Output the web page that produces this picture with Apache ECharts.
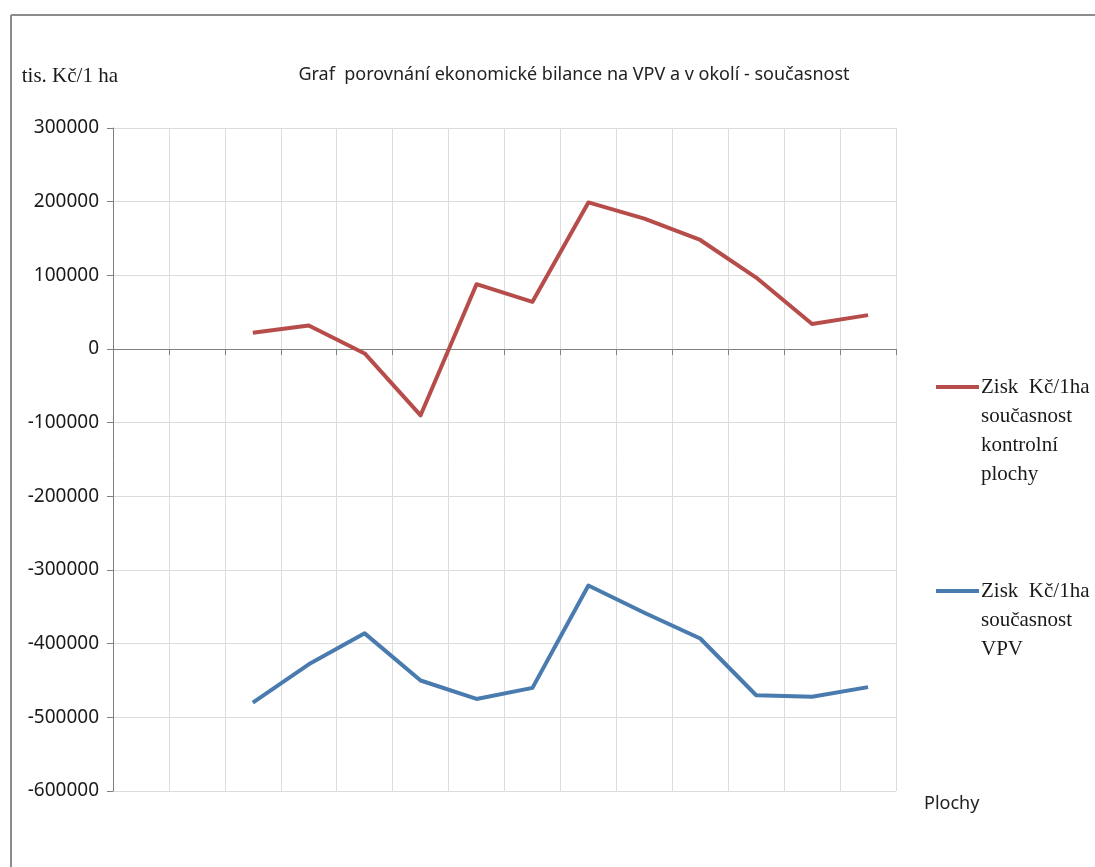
<!DOCTYPE html>
<html>
<head>
<meta charset="utf-8">
<title>Graf porovnání ekonomické bilance</title>
<script src="https://cdn.jsdelivr.net/npm/echarts@6/dist/echarts.min.js"></script>
<style>
  html, body { margin: 0; padding: 0; background: #ffffff; }
  #chart { width: 1095px; height: 867px; }
</style>
</head>
<body>
<div id="chart"></div>
<script>
// Plochy (areas) along the category axis
const plochy = ['1', '2', '3', '4', '5', '6', '7', '8', '9', '10', '11', '12', '13', '14'];

// Zisk Kč/1ha – současnost, kontrolní plochy
const ziskKontrolni = [null, null, 22000, 32000, -6000, -90000, 88000, 64000, 199000, 177000, 148000, 97000, 34000, 46000];

// Zisk Kč/1ha – současnost, VPV
const ziskVPV = [null, null, -480000, -428000, -386000, -450000, -475000, -460000, -321000, -358000, -393000, -470000, -472000, -459000];

// Value axis ticks
const yMin = -600000;
const yMax = 300000;
const yStep = 100000;

const seriesNames = [
  'Zisk  Kč/1ha\nsoučasnost\nkontrolní\nplochy',
  'Zisk  Kč/1ha\nsoučasnost\nVPV'
];
const colors = ['#B64D4B', '#4A7BAF'];

const sans = "'Noto Sans', 'Open Sans', sans-serif";
const serif = "'Liberation Serif', 'DejaVu Serif', serif";

const chart = echarts.init(document.getElementById('chart'), null, { renderer: 'canvas' });

// Legend entries: a short line in the series colour followed by its stacked caption
function legendEntry(i, lineY, textTop) {
  const lines = seriesNames[i].split('\n');
  const els = [{
    type: 'line',
    shape: { x1: 936, y1: lineY, x2: 979, y2: lineY },
    style: { stroke: colors[i], lineWidth: 4 }
  }];
  lines.forEach((t, k) => {
    els.push({
      type: 'text',
      x: 981,
      y: textTop + k * 29,
      style: {
        text: t,
        fill: '#1a1a1a',
        font: '21px ' + serif,
        textAlign: 'left',
        textVerticalAlign: 'middle'
      }
    });
  });
  return els;
}

const option = {
  animation: false,
  backgroundColor: '#ffffff',
  title: [
    {
      text: 'Graf  porovnání ekonomické bilance na VPV a v okolí - současnost',
      left: 569,
      top: 61,
      textAlign: 'center',
      textStyle: { fontFamily: sans, fontSize: 18, fontWeight: 'normal', color: '#222' }
    },
    {
      text: 'Plochy',
      left: 919,
      top: 790,
      textStyle: { fontFamily: sans, fontSize: 18, fontWeight: 'normal', color: '#222' }
    }
  ],
  grid: { left: 113, right: 199, top: 128, bottom: 76, containLabel: false },
  xAxis: {
    type: 'category',
    data: plochy,
    boundaryGap: true,
    axisLine: { onZero: true, lineStyle: { color: '#7f7f7f', width: 1 } },
    axisTick: { show: true, length: 6, lineStyle: { color: '#7f7f7f' } },
    axisLabel: { show: false },
    splitLine: { show: true, lineStyle: { color: '#dcdcdc', width: 1 } }
  },
  yAxis: {
    type: 'value',
    min: yMin,
    max: yMax,
    interval: yStep,
    name: 'tis. Kč/1 ha',
    nameLocation: 'end',
    nameGap: 52,
    nameTextStyle: {
      fontFamily: serif, fontSize: 21, color: '#1a1a1a',
      align: 'right', verticalAlign: 'middle', padding: [0, -5, 0, 0]
    },
    axisLine: { show: true, lineStyle: { color: '#7f7f7f', width: 1 } },
    axisTick: { show: true, length: 6, lineStyle: { color: '#7f7f7f' } },
    axisLabel: {
      margin: 14, fontFamily: sans, fontSize: 19, color: '#1a1a1a',
      formatter: (v) => String(v)
    },
    splitLine: { show: true, lineStyle: { color: '#dcdcdc', width: 1 } }
  },
  series: [
    {
      name: seriesNames[0],
      type: 'line',
      data: ziskKontrolni,
      showSymbol: false,
      color: colors[0],
      lineStyle: { width: 4, color: colors[0], join: 'round' }
    },
    {
      name: seriesNames[1],
      type: 'line',
      data: ziskVPV,
      showSymbol: false,
      color: colors[1],
      lineStyle: { width: 4, color: colors[1], join: 'round' }
    }
  ],
  graphic: [
    // outer chart frame (top and left edges)
    { type: 'line', shape: { x1: 11, y1: 15, x2: 1095, y2: 15 }, style: { stroke: '#8c8c8c', lineWidth: 2 } },
    { type: 'line', shape: { x1: 11, y1: 15, x2: 11, y2: 867 }, style: { stroke: '#8c8c8c', lineWidth: 2 } },
    ...legendEntry(0, 387, 387),
    ...legendEntry(1, 591, 591)
  ]
};

chart.setOption(option);
</script>
</body>
</html>
